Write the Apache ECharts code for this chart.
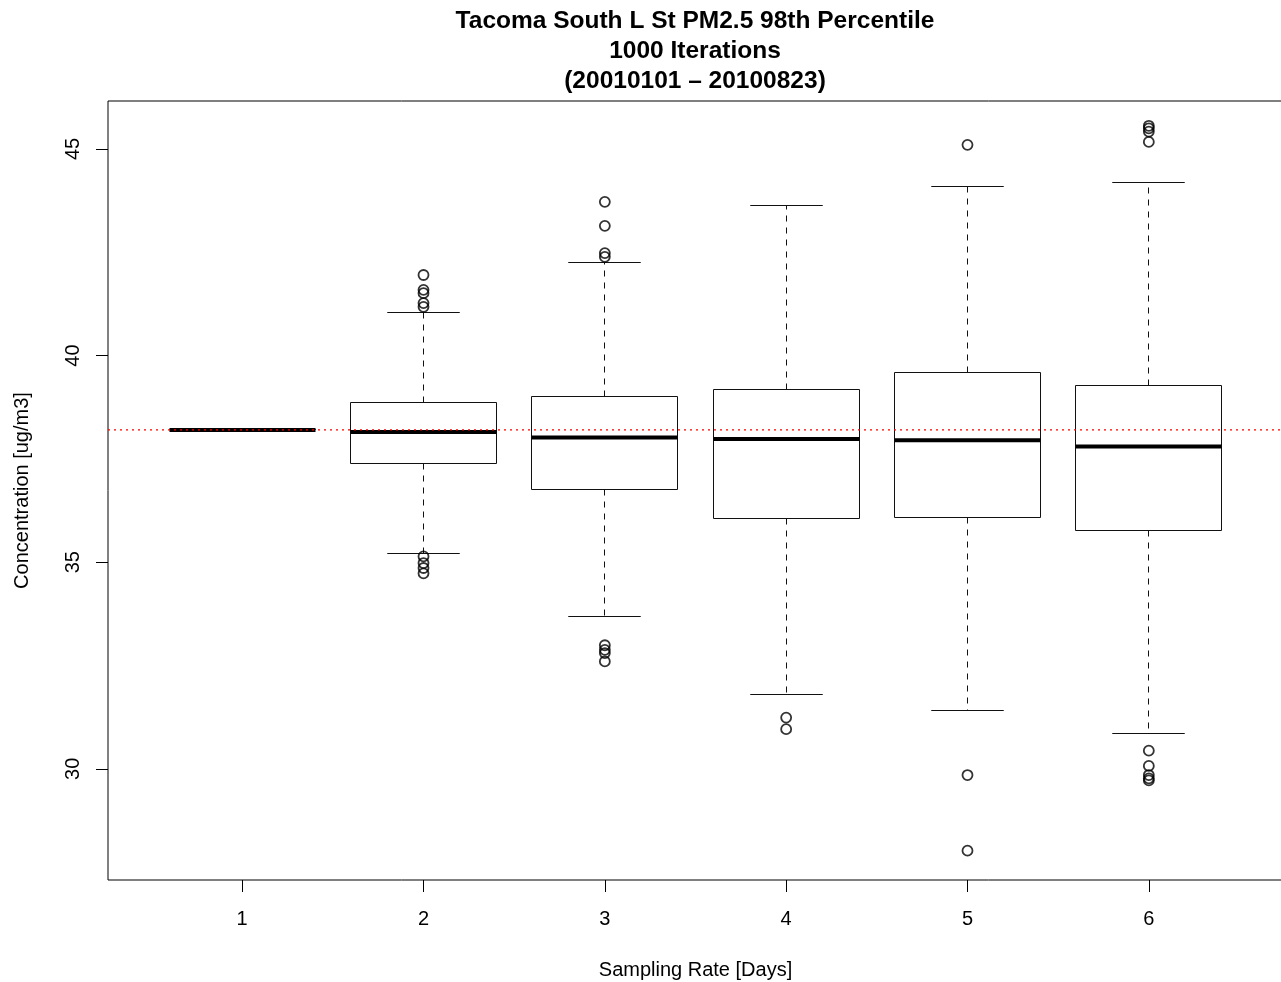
<!DOCTYPE html>
<html>
<head>
<meta charset="utf-8">
<title>Tacoma South L St PM2.5 98th Percentile</title>
<script src="https://cdn.jsdelivr.net/npm/echarts@6/dist/echarts.min.js"></script>
<style>
  html, body { margin: 0; padding: 0; background: #fff; }
  #chart { width: 1281px; height: 982px; }
</style>
</head>
<body>
<div id="chart"></div>
<script>
// Sampling rate in days (one box per rate)
const categories = [1, 2, 3, 4, 5, 6];

// Five-number summaries of the 98th percentile over 1000 resamplings
const whiskerLow  = [38.2, 35.20, 33.68, 31.80, 31.41, 30.85];
const quartile1   = [38.2, 37.38, 36.77, 36.05, 36.08, 35.76];
const medians     = [38.2, 38.15, 38.02, 37.98, 37.95, 37.80];
const quartile3   = [38.2, 38.87, 39.00, 39.18, 39.60, 39.27];
const whiskerHigh = [38.2, 41.05, 42.25, 43.63, 44.08, 44.18];

// Values beyond the whiskers: [sampling rate, concentration]
const outliers = [
  [2, 41.95], [2, 41.59], [2, 41.51], [2, 41.27], [2, 41.18],
  [2, 35.14], [2, 34.98], [2, 34.86], [2, 34.73],
  [3, 43.72], [3, 43.14], [3, 42.48], [3, 42.39],
  [3, 32.99], [3, 32.88], [3, 32.80], [3, 32.60],
  [4, 31.24], [4, 30.96],
  [5, 45.10], [5, 29.85], [5, 28.02],
  [6, 45.56], [6, 45.50], [6, 45.42], [6, 45.17],
  [6, 30.44], [6, 30.07], [6, 29.85], [6, 29.77], [6, 29.72]
];

// Every-day (complete record) 98th percentile
const referenceValue = 38.2;

// Axis tick labels
const xTicks = [1, 2, 3, 4, 5, 6];
const yTicks = [30, 35, 40, 45];

// Plot extents (the right edge of the frame runs just past the page)
const X_MIN = 0.26, X_MAX = 6.74;
const Y_MIN = 27.31, Y_MAX = 46.16;

const boxRows = categories.map((c, i) => [
  c, whiskerLow[i], quartile1[i], medians[i], quartile3[i], whiskerHigh[i]
]);

const FONT = '"Liberation Sans", Arial, Helvetica, sans-serif';
const INK = '#111';

function crisp(v) { return Math.round(v - 0.5) + 0.5; }

function renderBox(params, api) {
  const x = api.value(0);
  const yLo = crisp(api.coord([x, api.value(1)])[1]);
  const yQ1 = crisp(api.coord([x, api.value(2)])[1]);
  const yMed = api.coord([x, api.value(3)])[1];
  const yQ3 = crisp(api.coord([x, api.value(4)])[1]);
  const yHi = crisp(api.coord([x, api.value(5)])[1]);
  const cx = crisp(api.coord([x, api.value(3)])[0]);
  const boxW = api.size([0.8, 0])[0];
  const capW = boxW / 2;
  const left = crisp(cx - boxW / 2);
  const right = crisp(cx + boxW / 2);

  const thin = { stroke: INK, lineWidth: 1, fill: null };
  const dashed = { stroke: INK, lineWidth: 1, lineDash: [6, 6], fill: null };

  return {
    type: 'group',
    children: [
      { type: 'line', shape: { x1: cx, y1: yQ3, x2: cx, y2: yHi }, style: dashed },
      { type: 'line', shape: { x1: cx, y1: yQ1, x2: cx, y2: yLo }, style: dashed },
      { type: 'line', shape: { x1: cx - capW / 2, y1: yHi, x2: cx + capW / 2, y2: yHi }, style: thin },
      { type: 'line', shape: { x1: cx - capW / 2, y1: yLo, x2: cx + capW / 2, y2: yLo }, style: thin },
      { type: 'rect', shape: { x: left, y: yQ3, width: right - left, height: yQ1 - yQ3 }, style: thin },
      { type: 'line', shape: { x1: left, y1: yMed, x2: right, y2: yMed },
        style: { stroke: '#000', lineWidth: 4, fill: null } }
    ]
  };
}

const chart = echarts.init(document.getElementById('chart'), null, { renderer: 'canvas' });

chart.setOption({
  animation: false,
  backgroundColor: '#fff',
  textStyle: { fontFamily: FONT, color: '#000' },
  graphic: [
    {
      type: 'text', x: 695, y: 6,
      style: {
        text: 'Tacoma South L St PM2.5 98th Percentile\n1000 Iterations\n(20010101 – 20100823)',
        fontFamily: FONT, fontSize: 24.5, fontWeight: 'bold', fill: '#000',
        textAlign: 'center', textVerticalAlign: 'top', lineHeight: 30
      }
    }
  ],
  grid: {
    left: 108, top: 101, right: -2, bottom: 102,
    outerBoundsMode: 'none',
    containLabel: false,
    show: true, borderColor: '#000', borderWidth: 1, backgroundColor: 'transparent'
  },
  xAxis: {
    type: 'value', min: X_MIN, max: X_MAX,
    name: 'Sampling Rate [Days]', nameLocation: 'middle', nameGap: 80,
    nameTextStyle: { fontFamily: FONT, fontSize: 20, color: '#000' },
    axisLine: { show: false },
    splitLine: { show: false },
    axisTick: { show: true, customValues: xTicks, length: 12, lineStyle: { color: '#000' } },
    axisLabel: { customValues: xTicks, fontFamily: FONT, fontSize: 20, color: '#000', margin: 29 }
  },
  yAxis: {
    type: 'value', min: Y_MIN, max: Y_MAX,
    name: 'Concentration [ug/m3]', nameLocation: 'middle', nameGap: 76, nameRotate: 90,
    nameTextStyle: { fontFamily: FONT, fontSize: 20, color: '#000' },
    axisLine: { show: false },
    splitLine: { show: false },
    axisTick: { show: true, customValues: yTicks, length: 12, lineStyle: { color: '#000' } },
    axisLabel: { customValues: yTicks, rotate: 90, fontFamily: FONT, fontSize: 20, color: '#000', margin: 25 }
  },
  series: [
    {
      type: 'custom',
      name: 'boxes',
      data: boxRows,
      renderItem: renderBox,
      encode: { x: 0, y: [1, 2, 3, 4, 5] },
      silent: true,
      z: 2
    },
    {
      type: 'scatter',
      name: 'outliers',
      data: outliers,
      symbol: 'circle',
      symbolSize: 10,
      itemStyle: { color: 'rgba(0,0,0,0)', borderColor: '#000', borderWidth: 1.8 },
      silent: true,
      z: 3
    },
    {
      type: 'line',
      name: 'reference',
      color: '#ff0000',
      data: [[X_MIN, referenceValue], [X_MAX, referenceValue]],
      showSymbol: false,
      symbol: 'none',
      itemStyle: { color: '#ff0000' },
      lineStyle: { color: '#ff0000', width: 1.2, type: [2, 4], opacity: 1 },
      silent: true,
      z: 5
    }
  ]
});
</script>
</body>
</html>
